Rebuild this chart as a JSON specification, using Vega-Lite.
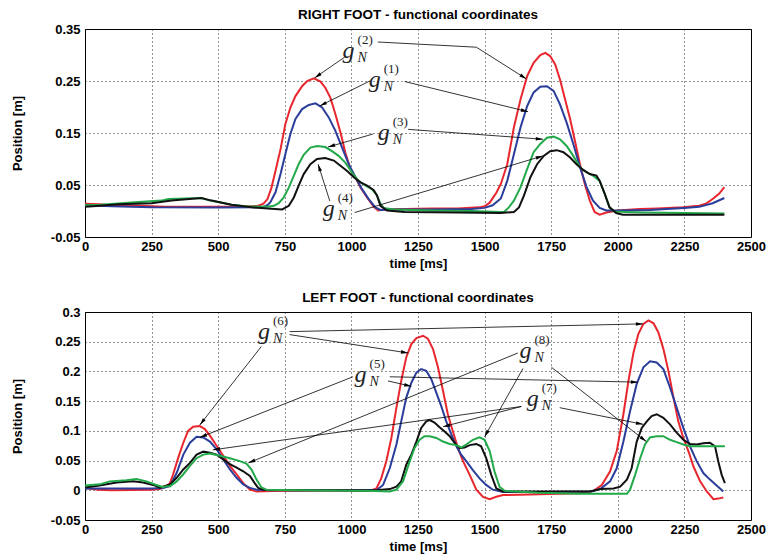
{
"$schema": "https://vega.github.io/schema/vega-lite/v6.json",
"padding": {"left": 10, "top": 7, "right": 2, "bottom": 2},
"spacing": 19,
"config": {
 "font": "Liberation Sans",
 "view": {"stroke": "#000", "strokeWidth": 1},
 "axis": {"domain": false, "grid": true, "gridColor": "#000", "gridDash": [1, 3], "gridOpacity": 0.85, "gridWidth": 1,
  "labelFont": "Liberation Sans", "labelFontWeight": "bold", "labelFontSize": 13, "labelColor": "#000",
  "titleFont": "Liberation Sans", "titleFontWeight": "bold", "titleFontSize": 13, "titleColor": "#000",
  "ticks": false, "labelFlush": false, "labelOverlap": false},
 "axisX": {"titlePadding": 4, "labelPadding": 3},
 "axisY": {"titlePadding": 26, "labelPadding": 5},
 "title": {"font": "Liberation Sans", "fontSize": 13.5, "fontWeight": "bold", "color": "#000", "offset": 2}
},
"datasets": {
 "curves": [
  {"p":"R","s":"g2","t":0,"v":0.014},{"p":"R","s":"g2","t":50,"v":0.013},{"p":"R","s":"g2","t":100,"v":0.011},{"p":"R","s":"g2","t":200,"v":0.010},{"p":"R","s":"g2","t":300,"v":0.008},{"p":"R","s":"g2","t":450,"v":0.008},{"p":"R","s":"g2","t":600,"v":0.008},{"p":"R","s":"g2","t":650,"v":0.010},{"p":"R","s":"g2","t":670,"v":0.014},{"p":"R","s":"g2","t":685,"v":0.023},{"p":"R","s":"g2","t":700,"v":0.045},{"p":"R","s":"g2","t":715,"v":0.077},{"p":"R","s":"g2","t":734,"v":0.119},{"p":"R","s":"g2","t":752,"v":0.167},{"p":"R","s":"g2","t":771,"v":0.199},{"p":"R","s":"g2","t":790,"v":0.221},{"p":"R","s":"g2","t":815,"v":0.240},{"p":"R","s":"g2","t":834,"v":0.250},{"p":"R","s":"g2","t":859,"v":0.255},{"p":"R","s":"g2","t":884,"v":0.249},{"p":"R","s":"g2","t":902,"v":0.237},{"p":"R","s":"g2","t":921,"v":0.218},{"p":"R","s":"g2","t":940,"v":0.186},{"p":"R","s":"g2","t":959,"v":0.151},{"p":"R","s":"g2","t":977,"v":0.113},{"p":"R","s":"g2","t":996,"v":0.081},{"p":"R","s":"g2","t":1015,"v":0.065},{"p":"R","s":"g2","t":1034,"v":0.045},{"p":"R","s":"g2","t":1059,"v":0.026},{"p":"R","s":"g2","t":1084,"v":0.008},{"p":"R","s":"g2","t":1100,"v":0.001},{"p":"R","s":"g2","t":1121,"v":0.003},{"p":"R","s":"g2","t":1200,"v":0.004},{"p":"R","s":"g2","t":1300,"v":0.005},{"p":"R","s":"g2","t":1400,"v":0.005},{"p":"R","s":"g2","t":1480,"v":0.007},{"p":"R","s":"g2","t":1500,"v":0.009},{"p":"R","s":"g2","t":1519,"v":0.016},{"p":"R","s":"g2","t":1544,"v":0.035},{"p":"R","s":"g2","t":1561,"v":0.052},{"p":"R","s":"g2","t":1585,"v":0.090},{"p":"R","s":"g2","t":1610,"v":0.161},{"p":"R","s":"g2","t":1635,"v":0.215},{"p":"R","s":"g2","t":1660,"v":0.260},{"p":"R","s":"g2","t":1684,"v":0.285},{"p":"R","s":"g2","t":1709,"v":0.300},{"p":"R","s":"g2","t":1728,"v":0.304},{"p":"R","s":"g2","t":1746,"v":0.298},{"p":"R","s":"g2","t":1765,"v":0.282},{"p":"R","s":"g2","t":1783,"v":0.253},{"p":"R","s":"g2","t":1802,"v":0.215},{"p":"R","s":"g2","t":1821,"v":0.177},{"p":"R","s":"g2","t":1839,"v":0.135},{"p":"R","s":"g2","t":1858,"v":0.090},{"p":"R","s":"g2","t":1876,"v":0.052},{"p":"R","s":"g2","t":1895,"v":0.020},{"p":"R","s":"g2","t":1913,"v":-0.002},{"p":"R","s":"g2","t":1932,"v":-0.007},{"p":"R","s":"g2","t":1957,"v":-0.003},{"p":"R","s":"g2","t":1988,"v":0.000},{"p":"R","s":"g2","t":2000,"v":0.001},{"p":"R","s":"g2","t":2081,"v":0.004},{"p":"R","s":"g2","t":2150,"v":0.005},{"p":"R","s":"g2","t":2244,"v":0.007},{"p":"R","s":"g2","t":2306,"v":0.010},{"p":"R","s":"g2","t":2330,"v":0.014},{"p":"R","s":"g2","t":2356,"v":0.023},{"p":"R","s":"g2","t":2380,"v":0.033},{"p":"R","s":"g2","t":2400,"v":0.046},
  {"p":"R","s":"g1","t":0,"v":0.011},{"p":"R","s":"g1","t":100,"v":0.009},{"p":"R","s":"g1","t":250,"v":0.007},{"p":"R","s":"g1","t":500,"v":0.0066},{"p":"R","s":"g1","t":650,"v":0.007},{"p":"R","s":"g1","t":671,"v":0.008},{"p":"R","s":"g1","t":687,"v":0.012},{"p":"R","s":"g1","t":696,"v":0.017},{"p":"R","s":"g1","t":715,"v":0.036},{"p":"R","s":"g1","t":734,"v":0.071},{"p":"R","s":"g1","t":752,"v":0.109},{"p":"R","s":"g1","t":771,"v":0.148},{"p":"R","s":"g1","t":790,"v":0.177},{"p":"R","s":"g1","t":815,"v":0.196},{"p":"R","s":"g1","t":840,"v":0.204},{"p":"R","s":"g1","t":865,"v":0.207},{"p":"R","s":"g1","t":890,"v":0.199},{"p":"R","s":"g1","t":915,"v":0.180},{"p":"R","s":"g1","t":940,"v":0.154},{"p":"R","s":"g1","t":965,"v":0.122},{"p":"R","s":"g1","t":990,"v":0.090},{"p":"R","s":"g1","t":1015,"v":0.065},{"p":"R","s":"g1","t":1040,"v":0.042},{"p":"R","s":"g1","t":1065,"v":0.023},{"p":"R","s":"g1","t":1090,"v":0.007},{"p":"R","s":"g1","t":1109,"v":0.002},{"p":"R","s":"g1","t":1150,"v":0.003},{"p":"R","s":"g1","t":1300,"v":0.003},{"p":"R","s":"g1","t":1450,"v":0.004},{"p":"R","s":"g1","t":1500,"v":0.006},{"p":"R","s":"g1","t":1530,"v":0.011},{"p":"R","s":"g1","t":1561,"v":0.024},{"p":"R","s":"g1","t":1585,"v":0.058},{"p":"R","s":"g1","t":1610,"v":0.109},{"p":"R","s":"g1","t":1635,"v":0.161},{"p":"R","s":"g1","t":1660,"v":0.202},{"p":"R","s":"g1","t":1684,"v":0.228},{"p":"R","s":"g1","t":1709,"v":0.239},{"p":"R","s":"g1","t":1734,"v":0.240},{"p":"R","s":"g1","t":1759,"v":0.231},{"p":"R","s":"g1","t":1783,"v":0.205},{"p":"R","s":"g1","t":1808,"v":0.170},{"p":"R","s":"g1","t":1833,"v":0.129},{"p":"R","s":"g1","t":1858,"v":0.084},{"p":"R","s":"g1","t":1883,"v":0.046},{"p":"R","s":"g1","t":1907,"v":0.020},{"p":"R","s":"g1","t":1932,"v":0.006},{"p":"R","s":"g1","t":1957,"v":0.001},{"p":"R","s":"g1","t":2000,"v":0.001},{"p":"R","s":"g1","t":2119,"v":0.002},{"p":"R","s":"g1","t":2250,"v":0.006},{"p":"R","s":"g1","t":2306,"v":0.008},{"p":"R","s":"g1","t":2356,"v":0.015},{"p":"R","s":"g1","t":2400,"v":0.025},
  {"p":"R","s":"g3","t":0,"v":0.011},{"p":"R","s":"g3","t":60,"v":0.012},{"p":"R","s":"g3","t":187,"v":0.017},{"p":"R","s":"g3","t":287,"v":0.020},{"p":"R","s":"g3","t":312,"v":0.023},{"p":"R","s":"g3","t":437,"v":0.025},{"p":"R","s":"g3","t":462,"v":0.021},{"p":"R","s":"g3","t":550,"v":0.012},{"p":"R","s":"g3","t":600,"v":0.009},{"p":"R","s":"g3","t":684,"v":0.008},{"p":"R","s":"g3","t":709,"v":0.010},{"p":"R","s":"g3","t":727,"v":0.015},{"p":"R","s":"g3","t":746,"v":0.026},{"p":"R","s":"g3","t":765,"v":0.045},{"p":"R","s":"g3","t":784,"v":0.068},{"p":"R","s":"g3","t":802,"v":0.090},{"p":"R","s":"g3","t":821,"v":0.108},{"p":"R","s":"g3","t":846,"v":0.122},{"p":"R","s":"g3","t":871,"v":0.125},{"p":"R","s":"g3","t":902,"v":0.123},{"p":"R","s":"g3","t":927,"v":0.115},{"p":"R","s":"g3","t":952,"v":0.106},{"p":"R","s":"g3","t":977,"v":0.093},{"p":"R","s":"g3","t":1002,"v":0.074},{"p":"R","s":"g3","t":1027,"v":0.058},{"p":"R","s":"g3","t":1052,"v":0.049},{"p":"R","s":"g3","t":1077,"v":0.042},{"p":"R","s":"g3","t":1096,"v":0.030},{"p":"R","s":"g3","t":1109,"v":0.014},{"p":"R","s":"g3","t":1121,"v":0.006},{"p":"R","s":"g3","t":1159,"v":0.003},{"p":"R","s":"g3","t":1300,"v":0.001},{"p":"R","s":"g3","t":1450,"v":0.000},{"p":"R","s":"g3","t":1560,"v":-0.002},{"p":"R","s":"g3","t":1573,"v":-0.002},{"p":"R","s":"g3","t":1591,"v":0.007},{"p":"R","s":"g3","t":1610,"v":0.020},{"p":"R","s":"g3","t":1635,"v":0.046},{"p":"R","s":"g3","t":1660,"v":0.081},{"p":"R","s":"g3","t":1684,"v":0.113},{"p":"R","s":"g3","t":1709,"v":0.129},{"p":"R","s":"g3","t":1734,"v":0.141},{"p":"R","s":"g3","t":1759,"v":0.143},{"p":"R","s":"g3","t":1783,"v":0.138},{"p":"R","s":"g3","t":1808,"v":0.125},{"p":"R","s":"g3","t":1833,"v":0.106},{"p":"R","s":"g3","t":1858,"v":0.084},{"p":"R","s":"g3","t":1883,"v":0.074},{"p":"R","s":"g3","t":1907,"v":0.068},{"p":"R","s":"g3","t":1932,"v":0.058},{"p":"R","s":"g3","t":1951,"v":0.033},{"p":"R","s":"g3","t":1969,"v":0.007},{"p":"R","s":"g3","t":1988,"v":-0.001},{"p":"R","s":"g3","t":2031,"v":-0.002},{"p":"R","s":"g3","t":2100,"v":-0.003},{"p":"R","s":"g3","t":2400,"v":-0.005},
  {"p":"R","s":"g4","t":0,"v":0.008},{"p":"R","s":"g4","t":30,"v":0.009},{"p":"R","s":"g4","t":125,"v":0.013},{"p":"R","s":"g4","t":250,"v":0.015},{"p":"R","s":"g4","t":325,"v":0.020},{"p":"R","s":"g4","t":437,"v":0.025},{"p":"R","s":"g4","t":475,"v":0.020},{"p":"R","s":"g4","t":550,"v":0.012},{"p":"R","s":"g4","t":625,"v":0.007},{"p":"R","s":"g4","t":700,"v":0.0045},{"p":"R","s":"g4","t":740,"v":0.003},{"p":"R","s":"g4","t":765,"v":0.010},{"p":"R","s":"g4","t":784,"v":0.026},{"p":"R","s":"g4","t":802,"v":0.049},{"p":"R","s":"g4","t":821,"v":0.071},{"p":"R","s":"g4","t":846,"v":0.090},{"p":"R","s":"g4","t":871,"v":0.100},{"p":"R","s":"g4","t":902,"v":0.102},{"p":"R","s":"g4","t":934,"v":0.097},{"p":"R","s":"g4","t":959,"v":0.087},{"p":"R","s":"g4","t":984,"v":0.077},{"p":"R","s":"g4","t":1009,"v":0.065},{"p":"R","s":"g4","t":1034,"v":0.055},{"p":"R","s":"g4","t":1059,"v":0.049},{"p":"R","s":"g4","t":1084,"v":0.040},{"p":"R","s":"g4","t":1096,"v":0.030},{"p":"R","s":"g4","t":1109,"v":0.010},{"p":"R","s":"g4","t":1134,"v":0.001},{"p":"R","s":"g4","t":1200,"v":-0.002},{"p":"R","s":"g4","t":1400,"v":-0.003},{"p":"R","s":"g4","t":1560,"v":-0.004},{"p":"R","s":"g4","t":1610,"v":-0.002},{"p":"R","s":"g4","t":1629,"v":0.007},{"p":"R","s":"g4","t":1648,"v":0.030},{"p":"R","s":"g4","t":1672,"v":0.065},{"p":"R","s":"g4","t":1697,"v":0.090},{"p":"R","s":"g4","t":1722,"v":0.106},{"p":"R","s":"g4","t":1746,"v":0.115},{"p":"R","s":"g4","t":1771,"v":0.117},{"p":"R","s":"g4","t":1796,"v":0.113},{"p":"R","s":"g4","t":1821,"v":0.103},{"p":"R","s":"g4","t":1845,"v":0.090},{"p":"R","s":"g4","t":1870,"v":0.079},{"p":"R","s":"g4","t":1895,"v":0.071},{"p":"R","s":"g4","t":1920,"v":0.068},{"p":"R","s":"g4","t":1932,"v":0.058},{"p":"R","s":"g4","t":1951,"v":0.033},{"p":"R","s":"g4","t":1969,"v":0.007},{"p":"R","s":"g4","t":1994,"v":-0.004},{"p":"R","s":"g4","t":2019,"v":-0.007},{"p":"R","s":"g4","t":2400,"v":-0.007},
  {"p":"L","s":"g6","t":0,"v":0.004},{"p":"L","s":"g6","t":50,"v":0.001},{"p":"L","s":"g6","t":100,"v":0.000},{"p":"L","s":"g6","t":250,"v":0.001},{"p":"L","s":"g6","t":280,"v":0.002},{"p":"L","s":"g6","t":300,"v":0.005},{"p":"L","s":"g6","t":319,"v":0.012},{"p":"L","s":"g6","t":331,"v":0.027},{"p":"L","s":"g6","t":350,"v":0.055},{"p":"L","s":"g6","t":369,"v":0.080},{"p":"L","s":"g6","t":387,"v":0.100},{"p":"L","s":"g6","t":406,"v":0.107},{"p":"L","s":"g6","t":431,"v":0.108},{"p":"L","s":"g6","t":450,"v":0.103},{"p":"L","s":"g6","t":469,"v":0.092},{"p":"L","s":"g6","t":494,"v":0.075},{"p":"L","s":"g6","t":519,"v":0.058},{"p":"L","s":"g6","t":544,"v":0.041},{"p":"L","s":"g6","t":569,"v":0.027},{"p":"L","s":"g6","t":594,"v":0.012},{"p":"L","s":"g6","t":619,"v":0.001},{"p":"L","s":"g6","t":644,"v":-0.002},{"p":"L","s":"g6","t":700,"v":-0.001},{"p":"L","s":"g6","t":900,"v":-0.0005},{"p":"L","s":"g6","t":1069,"v":-0.001},{"p":"L","s":"g6","t":1094,"v":0.003},{"p":"L","s":"g6","t":1112,"v":0.020},{"p":"L","s":"g6","t":1131,"v":0.049},{"p":"L","s":"g6","t":1150,"v":0.088},{"p":"L","s":"g6","t":1169,"v":0.139},{"p":"L","s":"g6","t":1187,"v":0.184},{"p":"L","s":"g6","t":1206,"v":0.224},{"p":"L","s":"g6","t":1225,"v":0.246},{"p":"L","s":"g6","t":1244,"v":0.256},{"p":"L","s":"g6","t":1269,"v":0.260},{"p":"L","s":"g6","t":1287,"v":0.255},{"p":"L","s":"g6","t":1306,"v":0.238},{"p":"L","s":"g6","t":1325,"v":0.207},{"p":"L","s":"g6","t":1344,"v":0.167},{"p":"L","s":"g6","t":1362,"v":0.128},{"p":"L","s":"g6","t":1381,"v":0.099},{"p":"L","s":"g6","t":1400,"v":0.071},{"p":"L","s":"g6","t":1419,"v":0.049},{"p":"L","s":"g6","t":1444,"v":0.026},{"p":"L","s":"g6","t":1469,"v":0.001},{"p":"L","s":"g6","t":1494,"v":-0.011},{"p":"L","s":"g6","t":1519,"v":-0.015},{"p":"L","s":"g6","t":1544,"v":-0.011},{"p":"L","s":"g6","t":1569,"v":-0.008},{"p":"L","s":"g6","t":1669,"v":-0.007},{"p":"L","s":"g6","t":1859,"v":-0.005},{"p":"L","s":"g6","t":1909,"v":-0.001},{"p":"L","s":"g6","t":1940,"v":0.009},{"p":"L","s":"g6","t":1971,"v":0.032},{"p":"L","s":"g6","t":1996,"v":0.066},{"p":"L","s":"g6","t":2021,"v":0.128},{"p":"L","s":"g6","t":2040,"v":0.184},{"p":"L","s":"g6","t":2059,"v":0.232},{"p":"L","s":"g6","t":2077,"v":0.263},{"p":"L","s":"g6","t":2096,"v":0.280},{"p":"L","s":"g6","t":2115,"v":0.286},{"p":"L","s":"g6","t":2134,"v":0.281},{"p":"L","s":"g6","t":2152,"v":0.266},{"p":"L","s":"g6","t":2171,"v":0.238},{"p":"L","s":"g6","t":2190,"v":0.201},{"p":"L","s":"g6","t":2209,"v":0.156},{"p":"L","s":"g6","t":2227,"v":0.116},{"p":"L","s":"g6","t":2246,"v":0.088},{"p":"L","s":"g6","t":2265,"v":0.066},{"p":"L","s":"g6","t":2284,"v":0.040},{"p":"L","s":"g6","t":2309,"v":0.015},{"p":"L","s":"g6","t":2334,"v":-0.002},{"p":"L","s":"g6","t":2359,"v":-0.015},{"p":"L","s":"g6","t":2377,"v":-0.014},{"p":"L","s":"g6","t":2396,"v":-0.012},
  {"p":"L","s":"g5","t":0,"v":0.003},{"p":"L","s":"g5","t":250,"v":0.003},{"p":"L","s":"g5","t":290,"v":0.004},{"p":"L","s":"g5","t":319,"v":0.007},{"p":"L","s":"g5","t":344,"v":0.029},{"p":"L","s":"g5","t":369,"v":0.060},{"p":"L","s":"g5","t":394,"v":0.080},{"p":"L","s":"g5","t":419,"v":0.090},{"p":"L","s":"g5","t":444,"v":0.089},{"p":"L","s":"g5","t":469,"v":0.082},{"p":"L","s":"g5","t":494,"v":0.069},{"p":"L","s":"g5","t":519,"v":0.052},{"p":"L","s":"g5","t":544,"v":0.035},{"p":"L","s":"g5","t":569,"v":0.021},{"p":"L","s":"g5","t":594,"v":0.010},{"p":"L","s":"g5","t":619,"v":0.004},{"p":"L","s":"g5","t":644,"v":0.001},{"p":"L","s":"g5","t":700,"v":0.000},{"p":"L","s":"g5","t":1094,"v":0.000},{"p":"L","s":"g5","t":1119,"v":0.009},{"p":"L","s":"g5","t":1144,"v":0.037},{"p":"L","s":"g5","t":1169,"v":0.077},{"p":"L","s":"g5","t":1187,"v":0.116},{"p":"L","s":"g5","t":1206,"v":0.156},{"p":"L","s":"g5","t":1225,"v":0.181},{"p":"L","s":"g5","t":1244,"v":0.198},{"p":"L","s":"g5","t":1262,"v":0.204},{"p":"L","s":"g5","t":1281,"v":0.201},{"p":"L","s":"g5","t":1300,"v":0.187},{"p":"L","s":"g5","t":1319,"v":0.164},{"p":"L","s":"g5","t":1337,"v":0.142},{"p":"L","s":"g5","t":1356,"v":0.116},{"p":"L","s":"g5","t":1375,"v":0.094},{"p":"L","s":"g5","t":1394,"v":0.074},{"p":"L","s":"g5","t":1412,"v":0.060},{"p":"L","s":"g5","t":1431,"v":0.049},{"p":"L","s":"g5","t":1456,"v":0.034},{"p":"L","s":"g5","t":1481,"v":0.020},{"p":"L","s":"g5","t":1506,"v":0.009},{"p":"L","s":"g5","t":1531,"v":0.001},{"p":"L","s":"g5","t":1569,"v":-0.003},{"p":"L","s":"g5","t":1700,"v":-0.003},{"p":"L","s":"g5","t":1900,"v":-0.002},{"p":"L","s":"g5","t":1934,"v":0.002},{"p":"L","s":"g5","t":1971,"v":0.015},{"p":"L","s":"g5","t":1996,"v":0.037},{"p":"L","s":"g5","t":2021,"v":0.082},{"p":"L","s":"g5","t":2046,"v":0.133},{"p":"L","s":"g5","t":2071,"v":0.179},{"p":"L","s":"g5","t":2096,"v":0.207},{"p":"L","s":"g5","t":2121,"v":0.217},{"p":"L","s":"g5","t":2146,"v":0.215},{"p":"L","s":"g5","t":2171,"v":0.204},{"p":"L","s":"g5","t":2196,"v":0.173},{"p":"L","s":"g5","t":2221,"v":0.139},{"p":"L","s":"g5","t":2246,"v":0.105},{"p":"L","s":"g5","t":2271,"v":0.074},{"p":"L","s":"g5","t":2296,"v":0.049},{"p":"L","s":"g5","t":2321,"v":0.029},{"p":"L","s":"g5","t":2346,"v":0.018},{"p":"L","s":"g5","t":2371,"v":0.008},{"p":"L","s":"g5","t":2396,"v":-0.002},
  {"p":"L","s":"g7","t":0,"v":0.0045},{"p":"L","s":"g7","t":55,"v":0.008},{"p":"L","s":"g7","t":118,"v":0.013},{"p":"L","s":"g7","t":180,"v":0.015},{"p":"L","s":"g7","t":218,"v":0.013},{"p":"L","s":"g7","t":256,"v":0.009},{"p":"L","s":"g7","t":281,"v":0.0045},{"p":"L","s":"g7","t":306,"v":0.008},{"p":"L","s":"g7","t":319,"v":0.010},{"p":"L","s":"g7","t":344,"v":0.021},{"p":"L","s":"g7","t":369,"v":0.035},{"p":"L","s":"g7","t":394,"v":0.046},{"p":"L","s":"g7","t":419,"v":0.060},{"p":"L","s":"g7","t":444,"v":0.065},{"p":"L","s":"g7","t":469,"v":0.063},{"p":"L","s":"g7","t":494,"v":0.060},{"p":"L","s":"g7","t":519,"v":0.052},{"p":"L","s":"g7","t":544,"v":0.044},{"p":"L","s":"g7","t":569,"v":0.038},{"p":"L","s":"g7","t":594,"v":0.032},{"p":"L","s":"g7","t":619,"v":0.024},{"p":"L","s":"g7","t":637,"v":0.012},{"p":"L","s":"g7","t":650,"v":0.004},{"p":"L","s":"g7","t":669,"v":0.001},{"p":"L","s":"g7","t":800,"v":0.000},{"p":"L","s":"g7","t":1094,"v":0.000},{"p":"L","s":"g7","t":1144,"v":0.002},{"p":"L","s":"g7","t":1169,"v":0.006},{"p":"L","s":"g7","t":1187,"v":0.015},{"p":"L","s":"g7","t":1206,"v":0.043},{"p":"L","s":"g7","t":1225,"v":0.060},{"p":"L","s":"g7","t":1244,"v":0.082},{"p":"L","s":"g7","t":1262,"v":0.105},{"p":"L","s":"g7","t":1281,"v":0.116},{"p":"L","s":"g7","t":1294,"v":0.118},{"p":"L","s":"g7","t":1312,"v":0.114},{"p":"L","s":"g7","t":1331,"v":0.106},{"p":"L","s":"g7","t":1350,"v":0.099},{"p":"L","s":"g7","t":1369,"v":0.091},{"p":"L","s":"g7","t":1387,"v":0.080},{"p":"L","s":"g7","t":1406,"v":0.071},{"p":"L","s":"g7","t":1425,"v":0.072},{"p":"L","s":"g7","t":1444,"v":0.076},{"p":"L","s":"g7","t":1469,"v":0.078},{"p":"L","s":"g7","t":1487,"v":0.074},{"p":"L","s":"g7","t":1506,"v":0.054},{"p":"L","s":"g7","t":1525,"v":0.026},{"p":"L","s":"g7","t":1544,"v":0.003},{"p":"L","s":"g7","t":1569,"v":-0.002},{"p":"L","s":"g7","t":1896,"v":-0.002},{"p":"L","s":"g7","t":1934,"v":0.002},{"p":"L","s":"g7","t":1984,"v":0.003},{"p":"L","s":"g7","t":2009,"v":0.006},{"p":"L","s":"g7","t":2034,"v":0.018},{"p":"L","s":"g7","t":2052,"v":0.037},{"p":"L","s":"g7","t":2071,"v":0.082},{"p":"L","s":"g7","t":2090,"v":0.105},{"p":"L","s":"g7","t":2109,"v":0.116},{"p":"L","s":"g7","t":2127,"v":0.125},{"p":"L","s":"g7","t":2146,"v":0.128},{"p":"L","s":"g7","t":2171,"v":0.122},{"p":"L","s":"g7","t":2196,"v":0.111},{"p":"L","s":"g7","t":2221,"v":0.097},{"p":"L","s":"g7","t":2246,"v":0.085},{"p":"L","s":"g7","t":2271,"v":0.078},{"p":"L","s":"g7","t":2296,"v":0.077},{"p":"L","s":"g7","t":2321,"v":0.079},{"p":"L","s":"g7","t":2346,"v":0.080},{"p":"L","s":"g7","t":2365,"v":0.074},{"p":"L","s":"g7","t":2377,"v":0.049},{"p":"L","s":"g7","t":2390,"v":0.026},{"p":"L","s":"g7","t":2402,"v":0.012},
  {"p":"L","s":"g8","t":0,"v":0.008},{"p":"L","s":"g8","t":55,"v":0.010},{"p":"L","s":"g8","t":93,"v":0.015},{"p":"L","s":"g8","t":155,"v":0.017},{"p":"L","s":"g8","t":193,"v":0.019},{"p":"L","s":"g8","t":231,"v":0.015},{"p":"L","s":"g8","t":268,"v":0.009},{"p":"L","s":"g8","t":293,"v":0.005},{"p":"L","s":"g8","t":306,"v":0.007},{"p":"L","s":"g8","t":319,"v":0.007},{"p":"L","s":"g8","t":344,"v":0.015},{"p":"L","s":"g8","t":369,"v":0.027},{"p":"L","s":"g8","t":394,"v":0.041},{"p":"L","s":"g8","t":419,"v":0.054},{"p":"L","s":"g8","t":444,"v":0.060},{"p":"L","s":"g8","t":469,"v":0.062},{"p":"L","s":"g8","t":506,"v":0.058},{"p":"L","s":"g8","t":544,"v":0.054},{"p":"L","s":"g8","t":581,"v":0.049},{"p":"L","s":"g8","t":606,"v":0.045},{"p":"L","s":"g8","t":625,"v":0.035},{"p":"L","s":"g8","t":644,"v":0.018},{"p":"L","s":"g8","t":662,"v":0.005},{"p":"L","s":"g8","t":681,"v":0.001},{"p":"L","s":"g8","t":800,"v":0.000},{"p":"L","s":"g8","t":1094,"v":-0.001},{"p":"L","s":"g8","t":1144,"v":-0.002},{"p":"L","s":"g8","t":1169,"v":0.001},{"p":"L","s":"g8","t":1194,"v":0.015},{"p":"L","s":"g8","t":1219,"v":0.049},{"p":"L","s":"g8","t":1237,"v":0.071},{"p":"L","s":"g8","t":1256,"v":0.085},{"p":"L","s":"g8","t":1275,"v":0.091},{"p":"L","s":"g8","t":1294,"v":0.091},{"p":"L","s":"g8","t":1319,"v":0.088},{"p":"L","s":"g8","t":1344,"v":0.082},{"p":"L","s":"g8","t":1369,"v":0.078},{"p":"L","s":"g8","t":1394,"v":0.076},{"p":"L","s":"g8","t":1412,"v":0.072},{"p":"L","s":"g8","t":1431,"v":0.077},{"p":"L","s":"g8","t":1456,"v":0.085},{"p":"L","s":"g8","t":1481,"v":0.089},{"p":"L","s":"g8","t":1500,"v":0.085},{"p":"L","s":"g8","t":1519,"v":0.066},{"p":"L","s":"g8","t":1537,"v":0.032},{"p":"L","s":"g8","t":1556,"v":0.006},{"p":"L","s":"g8","t":1575,"v":-0.001},{"p":"L","s":"g8","t":1700,"v":-0.004},{"p":"L","s":"g8","t":1859,"v":-0.006},{"p":"L","s":"g8","t":2034,"v":-0.006},{"p":"L","s":"g8","t":2046,"v":0.001},{"p":"L","s":"g8","t":2065,"v":0.026},{"p":"L","s":"g8","t":2084,"v":0.054},{"p":"L","s":"g8","t":2102,"v":0.077},{"p":"L","s":"g8","t":2121,"v":0.089},{"p":"L","s":"g8","t":2146,"v":0.091},{"p":"L","s":"g8","t":2171,"v":0.091},{"p":"L","s":"g8","t":2196,"v":0.085},{"p":"L","s":"g8","t":2221,"v":0.081},{"p":"L","s":"g8","t":2246,"v":0.077},{"p":"L","s":"g8","t":2271,"v":0.074},{"p":"L","s":"g8","t":2402,"v":0.074}
 ],
 "arrows": [
  {"p":"R","t":975,"v":0.296,"t2":862,"v2":0.256},
  {"p":"R","t":1469,"v":0.315,"t2":1657,"v2":0.254},
  {"p":"R","t":1069,"v":0.250,"t2":881,"v2":0.202},
  {"p":"R","t":1200,"v":0.249,"t2":1663,"v2":0.191},
  {"p":"R","t":1081,"v":0.148,"t2":912,"v2":0.123},
  {"p":"R","t":1213,"v":0.157,"t2":1719,"v2":0.138},
  {"p":"R","t":919,"v":0.019,"t2":875,"v2":0.090},
  {"p":"R","t":1012,"v":-0.003,"t2":1719,"v2":0.106},
  {"p":"L","t":662,"v":0.242,"t2":431,"v2":0.110},
  {"p":"L","t":768,"v":0.267,"t2":2095,"v2":0.280},
  {"p":"L","t":768,"v":0.262,"t2":1213,"v2":0.231},
  {"p":"L","t":1006,"v":0.191,"t2":431,"v2":0.089},
  {"p":"L","t":1137,"v":0.184,"t2":1225,"v2":0.175},
  {"p":"L","t":1144,"v":0.191,"t2":2076,"v2":0.182},
  {"p":"L","t":1625,"v":0.231,"t2":613,"v2":0.046},
  {"p":"L","t":1644,"v":0.205,"t2":1500,"v2":0.090},
  {"p":"L","t":1751,"v":0.207,"t2":2107,"v2":0.082},
  {"p":"L","t":1638,"v":0.141,"t2":480,"v2":0.068},
  {"p":"L","t":1638,"v":0.141,"t2":1344,"v2":0.107},
  {"p":"L","t":1782,"v":0.139,"t2":2095,"v2":0.111}
 ],
 "leaders": [
  {"p":"R","t":1099,"v":0.325,"t2":1469,"v2":0.315}
 ],
 "labels": [
  {"p":"R","t":967,"v":0.294,"sup":"(2)"},
  {"p":"R","t":1065,"v":0.238,"sup":"(1)"},
  {"p":"R","t":1099,"v":0.136,"sup":"(3)"},
  {"p":"R","t":892,"v":-0.010,"sup":"(4)"},
  {"p":"L","t":649,"v":0.254,"sup":"(6)"},
  {"p":"L","t":1012,"v":0.182,"sup":"(5)"},
  {"p":"L","t":1631,"v":0.223,"sup":"(8)"},
  {"p":"L","t":1658,"v":0.141,"sup":"(7)"}
 ]
},
"vconcat": [
 {
  "width": 666, "height": 208,
  "title": {"text": "RIGHT FOOT - functional coordinates"},
  "encoding": {
   "x": {"field": "t", "type": "quantitative", "title": "time [ms]", "scale": {"domain": [0, 2500], "nice": false, "zero": false},
     "axis": {"values": [0,250,500,750,1000,1250,1500,1750,2000,2250,2500], "format": "d"}},
   "y": {"field": "v", "type": "quantitative", "title": "Position [m]", "scale": {"domain": [-0.05, 0.35], "nice": false, "zero": false},
     "axis": {"values": [-0.05, 0.05, 0.15, 0.25, 0.35], "labelExpr": "replace(format(datum.value, '.2f'), '\u2212', '-')"}}
  },
  "layer": [
   {"data": {"name": "curves"}, "transform": [{"filter": "datum.p === 'R'"}],
    "mark": {"type": "line", "strokeWidth": 2, "clip": true},
    "encoding": {"color": {"field": "s", "type": "nominal", "legend": null,
      "scale": {"domain": ["g1","g2","g3","g4","g5","g6","g7","g8"], "range": ["#2a3d9a","#e8262e","#22a94a","#111111","#2a3d9a","#e8262e","#111111","#22a94a"]}}}},
   {"data": {"name": "arrows"}, "transform": [{"filter": "datum.p === 'R'"}],
    "mark": {"type": "rule", "color": "#000", "strokeWidth": 0.8},
    "encoding": {"x2": {"field": "t2"}, "y2": {"field": "v2"}}},
   {"data": {"name": "leaders"}, "transform": [{"filter": "datum.p === 'R'"}],
    "mark": {"type": "rule", "color": "#000", "strokeWidth": 0.8},
    "encoding": {"x2": {"field": "t2"}, "y2": {"field": "v2"}}},
   {"data": {"name": "arrows"}, "transform": [{"filter": "datum.p === 'R'"}, {"calculate": "atan2((datum.t2 - datum.t) * 0.2664, (datum.v2 - datum.v) * 520) * 180 / PI", "as": "ang"}],
    "mark": {"type": "point", "shape": "M0,0L-0.6,2.4L0.6,2.4Z", "filled": true, "color": "#000", "opacity": 1, "size": 36},
    "encoding": {"x": {"field": "t2", "type": "quantitative", "title": "time [ms]"}, "y": {"field": "v2", "type": "quantitative", "title": "Position [m]"}, "angle": {"field": "ang", "type": "quantitative", "scale": null}}},
   {"data": {"name": "labels"}, "transform": [{"filter": "datum.p === 'R'"}],
    "mark": {"type": "text", "font": "Liberation Serif", "fontStyle": "italic", "fontSize": 24, "align": "left", "baseline": "alphabetic", "color": "#222"},
    "encoding": {"text": {"value": "g"}}},
   {"data": {"name": "labels"}, "transform": [{"filter": "datum.p === 'R'"}],
    "mark": {"type": "text", "font": "Liberation Serif", "fontStyle": "italic", "fontSize": 14, "align": "left", "baseline": "alphabetic", "dx": 15, "dy": 4, "color": "#222"},
    "encoding": {"text": {"value": "N"}}},
   {"data": {"name": "labels"}, "transform": [{"filter": "datum.p === 'R'"}],
    "mark": {"type": "text", "font": "Liberation Serif", "fontSize": 13, "align": "left", "baseline": "alphabetic", "dx": 15, "dy": -14, "color": "#222"},
    "encoding": {"text": {"field": "sup"}}}
  ]
 },
 {
  "width": 666, "height": 208,
  "title": {"text": "LEFT FOOT - functional coordinates"},
  "encoding": {
   "x": {"field": "t", "type": "quantitative", "title": "time [ms]", "scale": {"domain": [0, 2500], "nice": false, "zero": false},
     "axis": {"values": [0,250,500,750,1000,1250,1500,1750,2000,2250,2500], "format": "d"}},
   "y": {"field": "v", "type": "quantitative", "title": "Position [m]", "scale": {"domain": [-0.05, 0.3], "nice": false, "zero": false},
     "axis": {"values": [-0.05, 0, 0.05, 0.1, 0.15, 0.2, 0.25, 0.3], "labelExpr": "replace(format(datum.value, '~g'), '\u2212', '-')"}}
  },
  "layer": [
   {"data": {"name": "curves"}, "transform": [{"filter": "datum.p === 'L'"}],
    "mark": {"type": "line", "strokeWidth": 2, "clip": true},
    "encoding": {"color": {"field": "s", "type": "nominal", "legend": null,
      "scale": {"domain": ["g1","g2","g3","g4","g5","g6","g7","g8"], "range": ["#2a3d9a","#e8262e","#22a94a","#111111","#2a3d9a","#e8262e","#111111","#22a94a"]}}}},
   {"data": {"name": "arrows"}, "transform": [{"filter": "datum.p === 'L'"}],
    "mark": {"type": "rule", "color": "#000", "strokeWidth": 0.8},
    "encoding": {"x2": {"field": "t2"}, "y2": {"field": "v2"}}},
   {"data": {"name": "arrows"}, "transform": [{"filter": "datum.p === 'L'"}, {"calculate": "atan2((datum.t2 - datum.t) * 0.2664, (datum.v2 - datum.v) * 594) * 180 / PI", "as": "ang"}],
    "mark": {"type": "point", "shape": "M0,0L-0.6,2.4L0.6,2.4Z", "filled": true, "color": "#000", "opacity": 1, "size": 36},
    "encoding": {"x": {"field": "t2", "type": "quantitative", "title": "time [ms]"}, "y": {"field": "v2", "type": "quantitative", "title": "Position [m]"}, "angle": {"field": "ang", "type": "quantitative", "scale": null}}},
   {"data": {"name": "labels"}, "transform": [{"filter": "datum.p === 'L'"}],
    "mark": {"type": "text", "font": "Liberation Serif", "fontStyle": "italic", "fontSize": 24, "align": "left", "baseline": "alphabetic", "color": "#222"},
    "encoding": {"text": {"value": "g"}}},
   {"data": {"name": "labels"}, "transform": [{"filter": "datum.p === 'L'"}],
    "mark": {"type": "text", "font": "Liberation Serif", "fontStyle": "italic", "fontSize": 14, "align": "left", "baseline": "alphabetic", "dx": 15, "dy": 4, "color": "#222"},
    "encoding": {"text": {"value": "N"}}},
   {"data": {"name": "labels"}, "transform": [{"filter": "datum.p === 'L'"}],
    "mark": {"type": "text", "font": "Liberation Serif", "fontSize": 13, "align": "left", "baseline": "alphabetic", "dx": 15, "dy": -14, "color": "#222"},
    "encoding": {"text": {"field": "sup"}}}
  ]
 }
]
}
